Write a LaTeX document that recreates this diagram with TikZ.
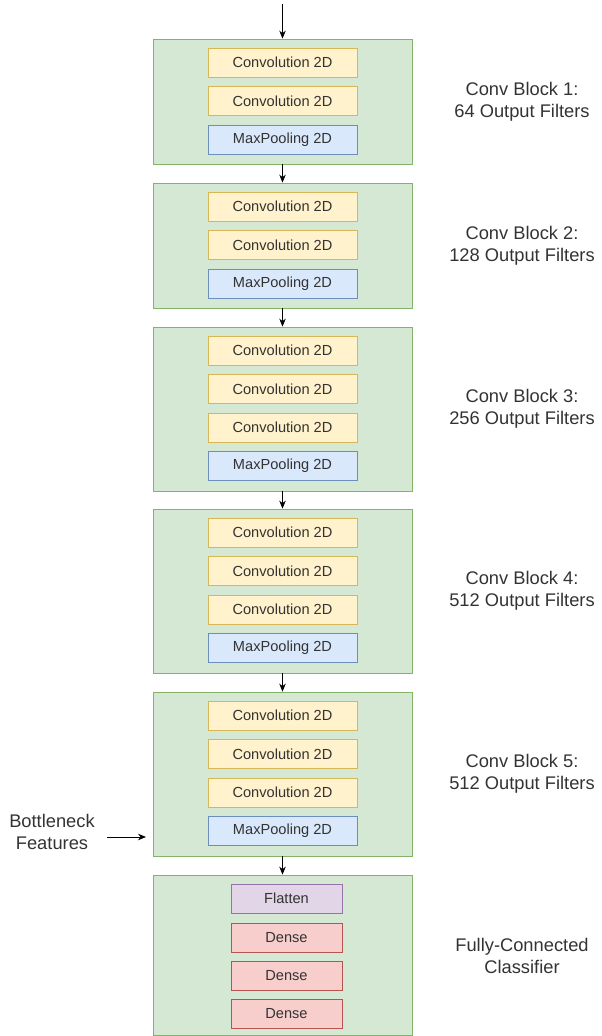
\documentclass[tikz,border=0pt]{standalone}
\usepackage{fontspec}
\setmainfont{Liberation Sans}
\usetikzlibrary{arrows.meta}
\definecolor{txt}{HTML}{333333}
\definecolor{gfill}{HTML}{D5E8D4}\definecolor{gdraw}{HTML}{82B366}
\definecolor{yfill}{HTML}{FFF2CC}\definecolor{ydraw}{HTML}{D6B656}
\definecolor{bfill}{HTML}{DAE8FC}\definecolor{bdraw}{HTML}{6C8EBF}
\definecolor{pfill}{HTML}{E1D5E7}\definecolor{pdraw}{HTML}{9673A6}
\definecolor{rfill}{HTML}{F8CECC}\definecolor{rdraw}{HTML}{B85450}
\tikzset{
  blockbox/.style={draw=gdraw, fill=gfill, line width=0.8pt, minimum width=259pt, inner sep=0pt},
  layer/.style={line width=0.8pt, minimum width=149pt, minimum height=29pt, inner sep=0pt,
     font=\fontsize{14.6}{16}\selectfont, text=txt},
  conv/.style={layer, draw=ydraw, fill=yfill},
  pool/.style={layer, draw=bdraw, fill=bfill},
  flat/.style={layer, draw=pdraw, fill=pfill, minimum width=111pt},
  dense/.style={layer, draw=rdraw, fill=rfill, minimum width=111pt},
  lbl/.style={align=center, font=\fontsize{18.3}{22}\selectfont, text=txt},
  arr/.style={-{Stealth[length=8pt,width=6.5pt]}, line width=0.8pt, black},
}
\begin{document}
\begin{tikzpicture}[x=1pt,y=-1pt]
\useasboundingbox (0,0) rectangle (602,1036);
% blocks
\node[blockbox, minimum height=125pt] (b1) at (282.5,101.5) {};
\node[blockbox, minimum height=125pt] (b2) at (282.5,245.5) {};
\node[blockbox, minimum height=164pt] (b3) at (282.5,409) {};
\node[blockbox, minimum height=164pt] (b4) at (282.5,591) {};
\node[blockbox, minimum height=164pt] (b5) at (282.5,774) {};
\node[blockbox, minimum height=160pt] (b6) at (282.5,955) {};
% block 1
\node[conv] (c11) at (282.5,62.5) {Convolution 2D};
\node[conv] (c12) at (282.5,101) {Convolution 2D};
\node[pool] (p1) at (282.5,139.5) {MaxPooling 2D};
% block 2
\node[conv] (c21) at (282.5,206.5) {Convolution 2D};
\node[conv] (c22) at (282.5,245) {Convolution 2D};
\node[pool] (p2) at (282.5,283.5) {MaxPooling 2D};
% block 3
\node[conv] (c31) at (282.5,350.5) {Convolution 2D};
\node[conv] (c32) at (282.5,389) {Convolution 2D};
\node[conv] (c33) at (282.5,427.5) {Convolution 2D};
\node[pool] (p3) at (282.5,466) {MaxPooling 2D};
% block 4
\node[conv] (c41) at (282.5,532.5) {Convolution 2D};
\node[conv] (c42) at (282.5,571) {Convolution 2D};
\node[conv] (c43) at (282.5,609.5) {Convolution 2D};
\node[pool] (p4) at (282.5,648) {MaxPooling 2D};
% block 5
\node[conv] (c51) at (282.5,715.5) {Convolution 2D};
\node[conv] (c52) at (282.5,754) {Convolution 2D};
\node[conv] (c53) at (282.5,792.5) {Convolution 2D};
\node[pool] (p5) at (282.5,831) {MaxPooling 2D};
% classifier
\node[flat] (f) at (286.5,898.5) {Flatten};
\node[dense] (d1) at (286.5,937.5) {Dense};
\node[dense] (d2) at (286.5,975.5) {Dense};
\node[dense] (d3) at (286.5,1014) {Dense};
% labels
\node[lbl] (l1) at (522,102) {Conv Block 1:\\64 Output Filters};
\node[lbl] (l2) at (522,246) {Conv Block 2:\\128 Output Filters};
\node[lbl] (l3) at (522,409) {Conv Block 3:\\256 Output Filters};
\node[lbl] (l4) at (522,591) {Conv Block 4:\\512 Output Filters};
\node[lbl] (l5) at (522,774) {Conv Block 5:\\512 Output Filters};
\node[lbl] (l6) at (522,956) {Fully-Connected\\Classifier};
\node[lbl] (bn) at (52,832) {Bottleneck\\Features};
% arrows
\coordinate (top) at (282.5,4);
\draw[arr] (top) -- (b1.north);
\draw[arr] (b1.south) -- (b2.north);
\draw[arr] (b2.south) -- (b3.north);
\draw[arr] (b3.south) -- (b4.north);
\draw[arr] (b4.south) -- (b5.north);
\draw[arr] (b5.south) -- (b6.north);
\coordinate (bs) at (107,837);
\coordinate (be) at (146,837);
\draw[arr] (bs) -- (be);
\end{tikzpicture}
\end{document}
